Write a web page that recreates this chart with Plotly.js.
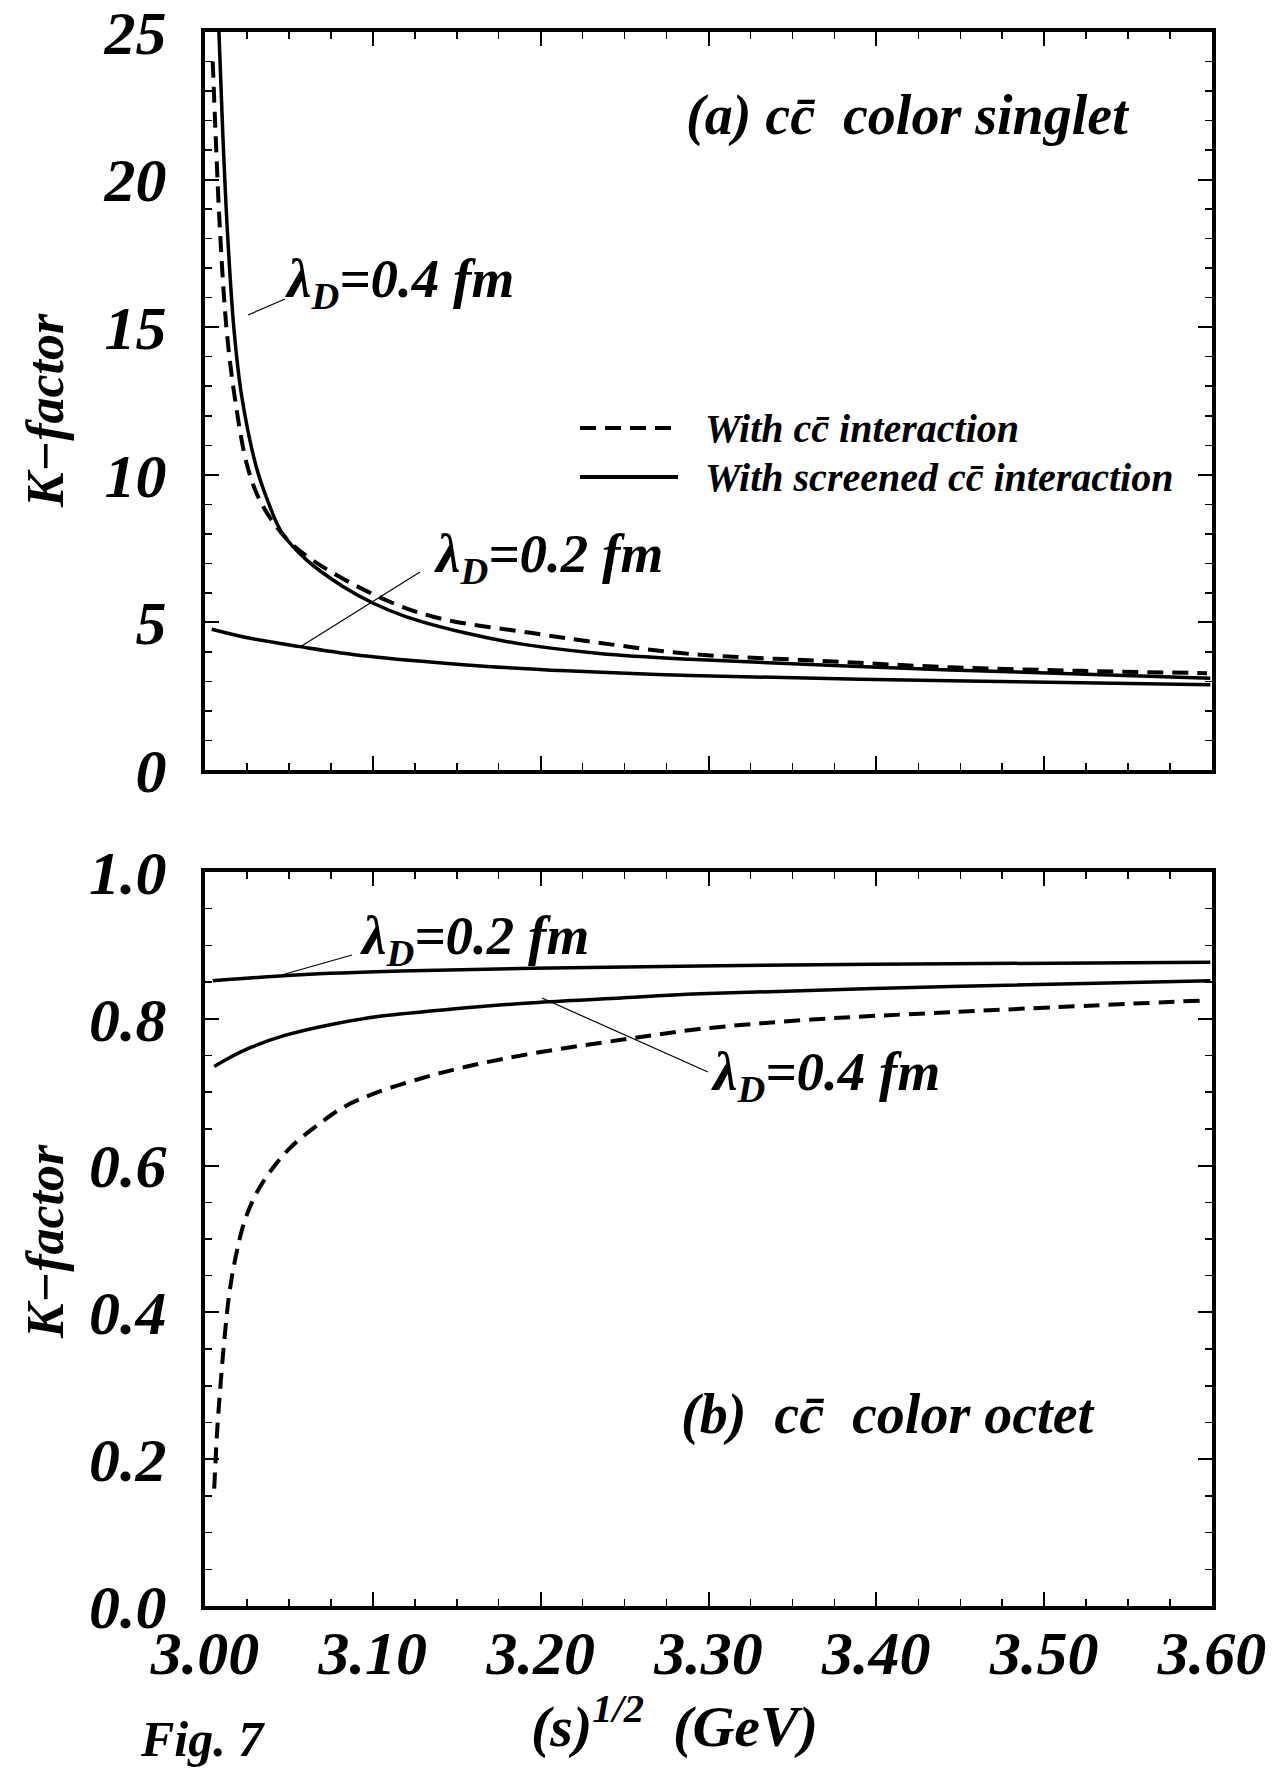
<!DOCTYPE html>
<html>
<head>
<meta charset="utf-8">
<script src="https://cdn.plot.ly/plotly-3.0.1.min.js"></script>
<style>html,body{margin:0;padding:0;background:#fff;}#chart{width:1273px;height:1775px;}</style>
</head>
<body>
<div id="chart"></div>
<script>
// ---- data ----
// (a) colour singlet, unscreened (dashed)
const singletFreeX = [3.0046, 3.0062, 3.0089, 3.0129, 3.0178, 3.0252, 3.0330, 3.0460, 3.0610, 3.1003, 3.1360, 3.1960, 3.2450, 3.2890, 3.3665, 3.4440, 3.5215, 3.5970];
const singletFreeK = [24.0, 21.7, 18.3, 14.9, 12.6, 10.3, 9.1, 8.0, 7.23, 5.95, 5.19, 4.63, 4.23, 3.93, 3.70, 3.48, 3.36, 3.28];
// (a) colour singlet, screened lambda_D = 0.4 fm
const singlet04X = [3.0083, 3.0105, 3.0133, 3.0173, 3.0219, 3.0304, 3.0375, 3.0457, 3.0606, 3.0824, 3.1003, 3.1200, 3.1560, 3.1860, 3.2350, 3.2890, 3.4440, 3.5990];
const singlet04K = [25.0, 21.7, 18.3, 14.9, 12.65, 10.3, 9.1, 8.05, 7.11, 6.21, 5.65, 5.19, 4.63, 4.29, 3.95, 3.75, 3.39, 3.11];
// (a) colour singlet, screened lambda_D = 0.2 fm
const singlet02X = [3.0040, 3.0270, 3.0566, 3.0960, 3.1560, 3.2155, 3.2890, 3.4440, 3.5990];
const singlet02K = [4.77, 4.46, 4.18, 3.86, 3.56, 3.36, 3.20, 3.02, 2.89];
// (b) colour octet, unscreened (dashed)
const octetFreeX = [3.0055, 3.0071, 3.0091, 3.0115, 3.0145, 3.0184, 3.0234, 3.0303, 3.0392, 3.0511, 3.0670, 3.0828, 3.1006, 3.1260, 3.1560, 3.1956, 3.2500, 3.2947, 3.3616, 3.4440, 3.5950];
const octetFreeK = [0.160, 0.233, 0.297, 0.362, 0.426, 0.477, 0.523, 0.561, 0.593, 0.625, 0.655, 0.680, 0.698, 0.717, 0.735, 0.753, 0.772, 0.786, 0.799, 0.809, 0.825];
// (b) colour octet, screened lambda_D = 0.4 fm
const octet04X = [3.0055, 3.0154, 3.0273, 3.0470, 3.0768, 3.1065, 3.1460, 3.1956, 3.2450, 3.2947, 3.4440, 3.5990];
const octet04K = [0.735, 0.748, 0.761, 0.777, 0.793, 0.804, 0.813, 0.822, 0.828, 0.834, 0.844, 0.852];
// (b) colour octet, screened lambda_D = 0.2 fm
const octet02X = [3.0046, 3.0570, 3.1164, 3.1956, 3.2947, 3.4440, 3.5990];
const octet02K = [0.852, 0.860, 0.865, 0.869, 0.872, 0.875, 0.877];

const xTickLabelsFmt = '.2f';
const legendLabels = ['With cc\u0304 interaction', 'With screened cc\u0304 interaction'];

// ---- layout helpers (pixel -> paper) ----
const L = 205, R = 1212, T = 32, B = 1606;
const PX = p => (p - L) / (R - L);
const PY = p => (B - p) / (B - T);

const FAM = 'Liberation Serif';
const bi = (size) => ({family: FAM, size: size, color: 'black', weight: 'bold', style: 'italic'});

const solid = {color: 'black', width: 3.5, shape: 'spline', smoothing: 1};
const dashed = {color: 'black', width: 4, dash: '16px,9px', shape: 'spline', smoothing: 1};

const traces = [
  {x: singletFreeX, y: singletFreeK, xaxis: 'x', yaxis: 'y', mode: 'lines', line: dashed},
  {x: singlet04X, y: singlet04K, xaxis: 'x', yaxis: 'y', mode: 'lines', line: solid},
  {x: singlet02X, y: singlet02K, xaxis: 'x', yaxis: 'y', mode: 'lines', line: solid},
  {x: octetFreeX, y: octetFreeK, xaxis: 'x2', yaxis: 'y2', mode: 'lines', line: dashed},
  {x: octet04X, y: octet04K, xaxis: 'x2', yaxis: 'y2', mode: 'lines', line: solid},
  {x: octet02X, y: octet02K, xaxis: 'x2', yaxis: 'y2', mode: 'lines', line: solid}
];

const axisBase = {
  showline: true, linewidth: 4, linecolor: 'black', mirror: 'allticks',
  ticks: 'inside', ticklen: 14, tickwidth: 2, tickcolor: 'black',
  showgrid: false, zeroline: false, fixedrange: true,
  ticklabeloverflow: 'allow',
  tickfont: bi(62)
};

const minorX = {dtick: 0.025, ticklen: 7, tickwidth: 1.5, ticks: 'inside', tickcolor: 'black', showgrid: false};

const layout = {
  width: 1273, height: 1775,
  margin: {l: L, r: 1273 - R, t: T, b: 1775 - B},
  paper_bgcolor: 'white', plot_bgcolor: 'white',
  showlegend: false,
  xaxis: Object.assign({}, axisBase, {domain: [0, 1], anchor: 'y', range: [3.0, 3.6], tick0: 3.0, dtick: 0.1, showticklabels: false, minor: minorX}),
  xaxis2: Object.assign({}, axisBase, {domain: [0, 1], anchor: 'y2', range: [3.0, 3.6], tick0: 3.0, dtick: 0.1, tickformat: xTickLabelsFmt, ticklabelstandoff: -10, minor: minorX}),
  yaxis: Object.assign({}, axisBase, {domain: [PY(770), 1], anchor: 'x', range: [0, 25], tick0: 0, dtick: 5, ticklabelstandoff: 22,
    minor: {dtick: 1, ticklen: 7, tickwidth: 1.5, ticks: 'inside', tickcolor: 'black', showgrid: false}}),
  yaxis2: Object.assign({}, axisBase, {domain: [0, PY(872)], anchor: 'x2', range: [0, 1], tick0: 0, dtick: 0.2, tickformat: '.1f', ticklabelstandoff: 22,
    minor: {dtick: 0.05, ticklen: 7, tickwidth: 1.5, ticks: 'inside', tickcolor: 'black', showgrid: false}}),
  shapes: [
    {type: 'line', xref: 'paper', yref: 'paper', x0: PX(580), x1: PX(678), y0: PY(428), y1: PY(428), line: {color: 'black', width: 4, dash: '16px,9px'}},
    {type: 'line', xref: 'paper', yref: 'paper', x0: PX(580), x1: PX(678), y0: PY(477), y1: PY(477), line: {color: 'black', width: 4}},
    {type: 'line', xref: 'paper', yref: 'paper', x0: PX(248), x1: PX(285), y0: PY(315), y1: PY(299), line: {color: 'black', width: 1.2}},
    {type: 'line', xref: 'paper', yref: 'paper', x0: PX(300), x1: PX(420), y0: PY(647), y1: PY(572), line: {color: 'black', width: 1.2}},
    {type: 'line', xref: 'paper', yref: 'paper', x0: PX(285), x1: PX(352), y0: PY(974), y1: PY(955), line: {color: 'black', width: 1.2}},
    {type: 'line', xref: 'paper', yref: 'paper', x0: PX(542), x1: PX(708), y0: PY(998), y1: PY(1072), line: {color: 'black', width: 1.2}}
  ],
  annotations: [
    {text: '(a) cc\u0304\u00A0 color singlet', x: PX(907), y: PY(116), xanchor: 'center', yanchor: 'middle', font: bi(56)},
    {text: '\u03BB<sub>D</sub>=0.4 fm', x: PX(283), y: PY(283), xanchor: 'left', yanchor: 'middle', font: bi(55)},
    {text: '\u03BB<sub>D</sub>=0.2 fm', x: PX(432), y: PY(557), xanchor: 'left', yanchor: 'middle', font: bi(55)},
    {text: legendLabels[0], x: PX(703), y: PY(428), xanchor: 'left', yanchor: 'middle', font: bi(40)},
    {text: legendLabels[1], x: PX(703), y: PY(477), xanchor: 'left', yanchor: 'middle', font: bi(40)},
    {text: '\u03BB<sub>D</sub>=0.2 fm', x: PX(358), y: PY(939), xanchor: 'left', yanchor: 'middle', font: bi(55)},
    {text: '\u03BB<sub>D</sub>=0.4 fm', x: PX(709), y: PY(1075), xanchor: 'left', yanchor: 'middle', font: bi(55)},
    {text: '(b)\u00A0 cc\u0304\u00A0 color octet', x: PX(887), y: PY(1414), xanchor: 'center', yanchor: 'middle', font: bi(56)},
    {text: 'K\u2212factor', x: PX(45), y: PY(411), xanchor: 'center', yanchor: 'middle', textangle: -90, font: bi(52)},
    {text: 'K\u2212factor', x: PX(45), y: PY(1242), xanchor: 'center', yanchor: 'middle', textangle: -90, font: bi(52)},
    {text: '(s)<sup>1/2</sup>\u00A0 (GeV)', x: PX(674), y: PY(1722), xanchor: 'center', yanchor: 'middle', font: bi(58)},
    {text: 'Fig. 7', x: PX(202), y: PY(1739), xanchor: 'center', yanchor: 'middle', font: bi(50)}
  ].map(a => Object.assign({xref: 'paper', yref: 'paper', showarrow: false}, a))
};

Plotly.newPlot('chart', traces, layout, {staticPlot: true, displayModeBar: false});
</script>
</body>
</html>
